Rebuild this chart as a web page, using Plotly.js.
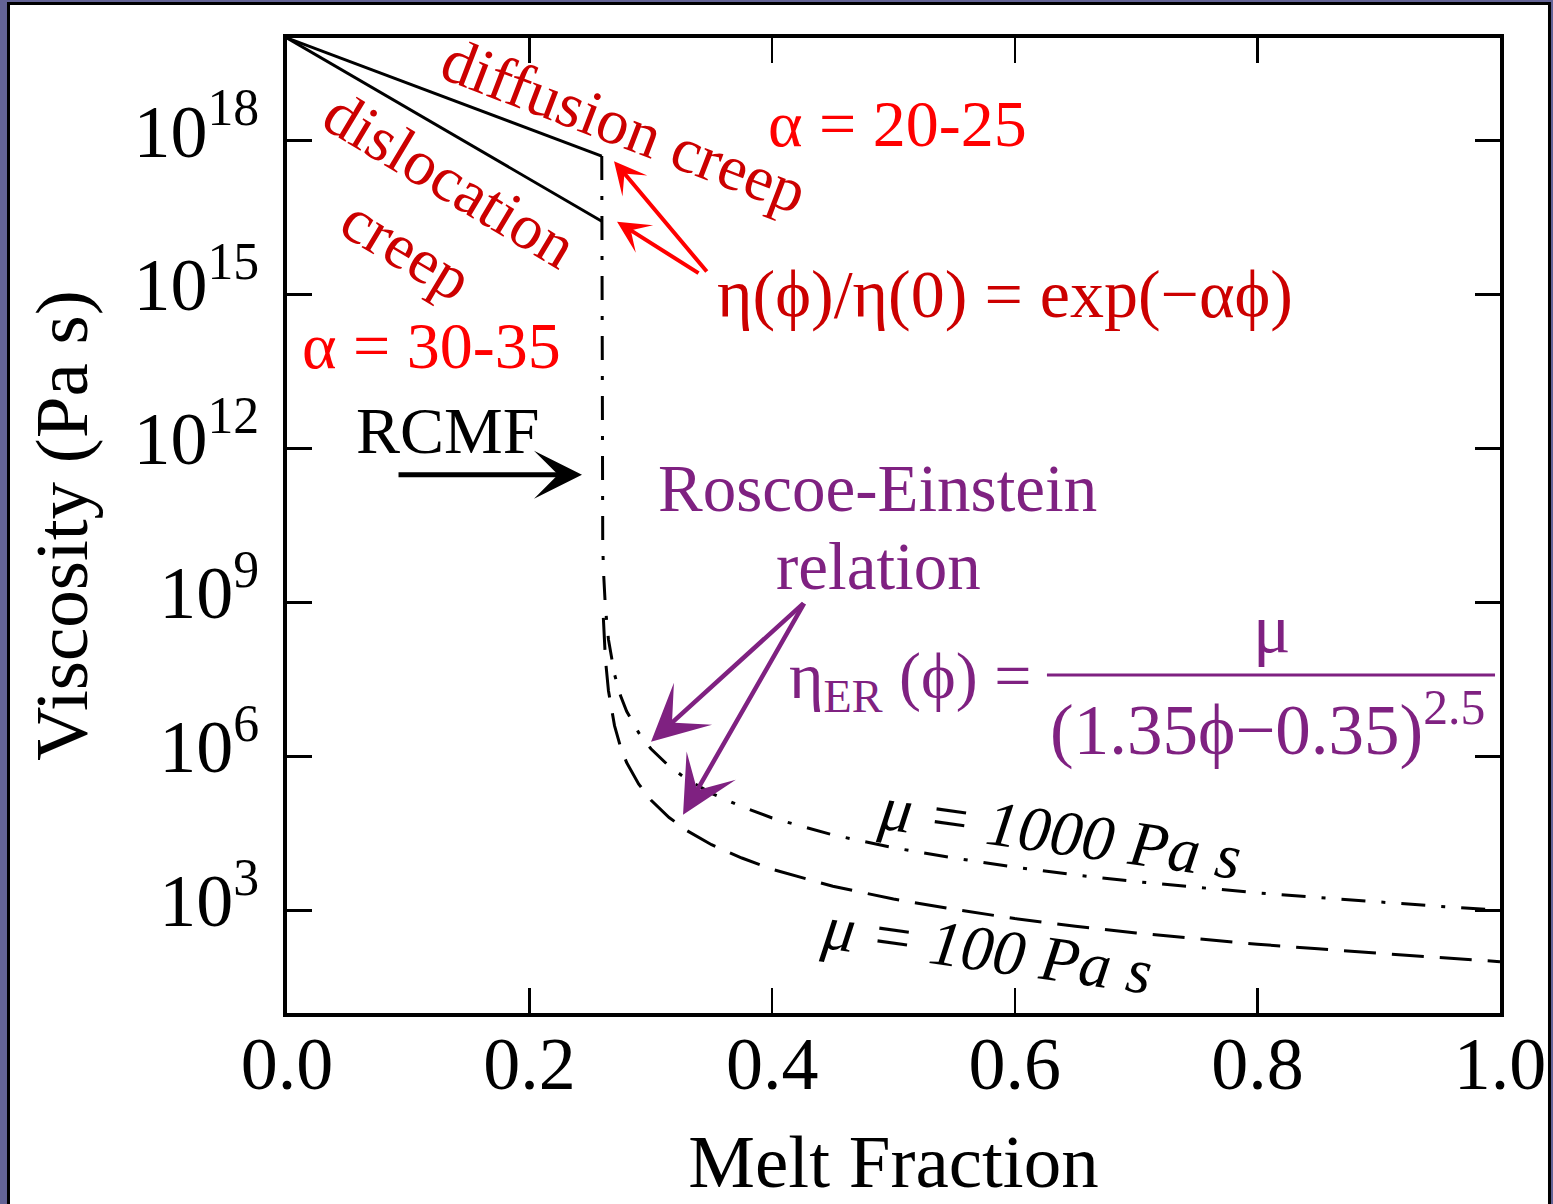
<!DOCTYPE html>
<html>
<head>
<meta charset="utf-8">
<script src="https://cdn.plot.ly/plotly-3.0.1.min.js"></script>
<style>html,body{margin:0;padding:0;background:#646496;}#chart{width:1553px;height:1204px;}</style>
</head>
<body>
<div id="chart"></div>
<script>
// ---- data (melt fraction, log10 viscosity) ----
const creepPhi = [0.0, 0.2595];
const diffusionLog = [20.0, 17.70];
const dislocationLog = [20.0, 16.43];

const mu1000Phi = [0.2595, 0.2598, 0.2603, 0.2610, 0.2625, 0.265, 0.270, 0.275, 0.280, 0.290, 0.300, 0.315, 0.330, 0.350, 0.375, 0.400, 0.450, 0.500, 0.550, 0.600, 0.650, 0.700, 0.750, 0.800, 0.850, 0.900, 0.950, 1.000];
const mu1000Log = [17.70, 11.00, 10.10, 9.57, 8.90, 8.28, 7.60, 7.18, 6.88, 6.46, 6.15, 5.81, 5.55, 5.28, 5.02, 4.80, 4.47, 4.22, 4.02, 3.84, 3.69, 3.56, 3.45, 3.34, 3.25, 3.16, 3.08, 3.00];

const mu100Phi = [0.2608, 0.2615, 0.2625, 0.265, 0.270, 0.275, 0.280, 0.290, 0.300, 0.315, 0.330, 0.350, 0.375, 0.400, 0.450, 0.500, 0.550, 0.600, 0.650, 0.700, 0.750, 0.800, 0.850, 0.900, 0.950, 1.000];
const mu100Log = [8.70, 8.35, 7.90, 7.28, 6.60, 6.18, 5.88, 5.46, 5.15, 4.81, 4.55, 4.28, 4.02, 3.80, 3.47, 3.22, 3.02, 2.84, 2.69, 2.56, 2.45, 2.34, 2.25, 2.16, 2.08, 2.00];

const xTickVals = [0, 0.2, 0.4, 0.6, 0.8, 1.0];
const xTickText = ['0.0', '0.2', '0.4', '0.6', '0.8', '1.0'];
const yTickExp = [3, 6, 9, 12, 15, 18];

const pow10 = a => a.map(v => Math.pow(10, v));
const SERIF = '"Liberation Serif", "Times New Roman", serif';
const DARKRED = '#cc0000', RED = '#ff0000', PURPLE = '#7f2181';

const traces = [
  {x: creepPhi, y: pow10(diffusionLog), mode: 'lines', line: {color: 'black', width: 3}, name: 'diffusion creep'},
  {x: creepPhi, y: pow10(dislocationLog), mode: 'lines', line: {color: 'black', width: 3}, name: 'dislocation creep'},
  {x: mu1000Phi, y: pow10(mu1000Log), mode: 'lines', line: {color: 'black', width: 3, dash: '24px,16px,4px,16px'}, name: 'μ = 1000 Pa s'},
  {x: mu100Phi, y: pow10(mu100Log), mode: 'lines', line: {color: 'black', width: 3, dash: '32px,16px'}, name: 'μ = 100 Pa s'}
];

function txt(text, x, y, color, size, angle, extra) {
  return Object.assign({text: text, x: x, y: y, xref: 'x', yref: 'y', showarrow: false,
    xanchor: 'center', yanchor: 'middle', textangle: angle || 0,
    font: {family: SERIF, size: size, color: color}}, extra || {});
}
function arrow(x, y, ax, ay, color, w, s) {
  return {text: '', x: x, y: y, ax: ax, ay: ay, xref: 'x', yref: 'y', axref: 'x', ayref: 'y',
    showarrow: true, arrowhead: 3, arrowwidth: w, arrowsize: s, arrowcolor: color, standoff: 0, startstandoff: 0};
}

const annotations = [
  txt('diffusion creep', 0.2778, 18.29, DARKRED, 64, 21),
  txt('dislocation', 0.1344, 17.25, DARKRED, 64, 31),
  txt('creep', 0.0989, 15.87, DARKRED, 64, 31),
  txt('α = 20-25', 0.5029, 18.34, RED, 66),
  txt('η(ϕ)/η(0) = exp(−αϕ)', 0.5919, 15.01, DARKRED, 68),
  txt('α = 30-35', 0.1195, 14.00, RED, 66),
  txt('RCMF', 0.1327, 12.36, 'black', 66),
  txt('Roscoe-Einstein', 0.4872, 11.23, PURPLE, 67),
  txt('relation', 0.488, 9.71, PURPLE, 67),
  txt('η<sub>ER</sub> (ϕ) =', 0.5136, 7.47, PURPLE, 66),
  txt('μ', 0.8120, 8.50, PURPLE, 70),
  txt('(1.35ϕ−0.35)<sup>2.5</sup>', 0.8087, 6.62, PURPLE, 71),
  txt('<i>μ = 1000 Pa s</i>', 0.6373, 4.51, 'black', 64, 8),
  txt('<i>μ = 100 Pa s</i>', 0.5771, 2.233, 'black', 64, 8),
  arrow(0.2432, 11.49, 0.0907, 11.49, 'black', 5, 1.6),
  arrow(0.2696, 17.60, 0.3471, 15.42, RED, 4, 1.35),
  arrow(0.2721, 16.42, 0.3405, 15.40, RED, 4, 1.35),
  arrow(0.3001, 6.285, 0.4270, 9.01, PURPLE, 4.5, 2.1),
  arrow(0.3265, 4.863, 0.4270, 9.01, PURPLE, 4.5, 2.1)
];

const shapes = [
  {type: 'rect', xref: 'paper', yref: 'paper', x0: -0.2296, x1: 1.0408, y0: -0.3, y1: 1.0354,
   line: {color: 'black', width: 3}, fillcolor: 'white', layer: 'below'},
  {type: 'line', xref: 'paper', yref: 'paper', x0: 0.6265, x1: 0.9959, y0: 0.3467, y1: 0.3467,
   line: {color: PURPLE, width: 3}, layer: 'above'}
];

const axisCommon = {showline: true, linewidth: 4, linecolor: 'black', mirror: 'ticks',
  ticks: 'inside', ticklen: 25, tickwidth: 2.5, tickcolor: 'black', showgrid: false, zeroline: false,
  tickfont: {family: SERIF, size: 74, color: 'black'}};

const layout = {
  width: 1553, height: 1204,
  margin: {l: 287, r: 53, t: 38, b: 191, pad: 0},
  paper_bgcolor: '#646496', plot_bgcolor: 'white',
  showlegend: false, hovermode: false,
  xaxis: Object.assign({}, axisCommon, {range: [0, 1], tickvals: xTickVals, ticktext: xTickText,
    ticklabelstandoff: -17,
    title: {text: 'Melt Fraction', font: {family: SERIF, size: 75, color: 'black'}, standoff: 32}}),
  yaxis: Object.assign({}, axisCommon, {type: 'log', range: [1, 20],
    tickvals: pow10(yTickExp), ticktext: yTickExp.map(e => '10<sup>' + e + '</sup>'),
    ticklabelstandoff: 9, ticklabelshift: -10,
    title: {text: 'Viscosity (Pa s)', font: {family: SERIF, size: 75, color: 'black'}, standoff: 22}}),
  annotations: annotations,
  shapes: shapes
};

Plotly.newPlot('chart', traces, layout, {displayModeBar: false, staticPlot: true});
</script>
</body>
</html>
